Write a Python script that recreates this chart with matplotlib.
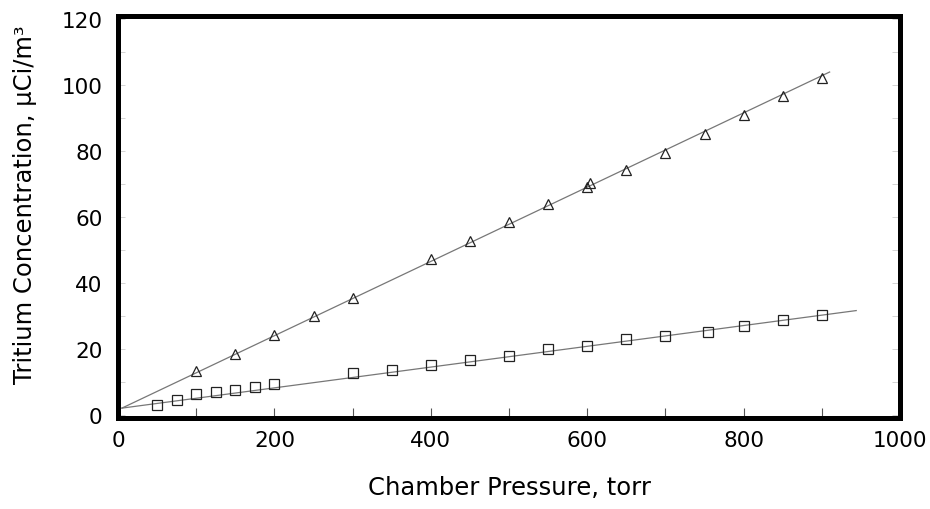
import matplotlib
matplotlib.use("Agg")
import matplotlib.pyplot as plt
from matplotlib.ticker import MultipleLocator

plt.rcParams['font.family'] = ['DejaVu Sans']

# triangles (upper series)
tri_x = [100, 150, 200, 250, 300, 400, 450, 500, 550, 600, 604, 650, 700, 750, 800, 850, 900]
tri_y = [13.4, 18.5, 24.2, 29.9, 35.4, 47.3, 52.8, 58.5, 64.0, 69.2, 70.2, 74.3, 79.5, 85.3, 91.0, 96.8, 102.3]

# squares (lower series)
sq_x = [50, 75, 100, 125, 150, 175, 200, 300, 350, 400, 450, 500, 550, 600, 650, 700, 755, 800, 850, 900]
sq_y = [3.0, 4.6, 6.2, 6.9, 7.4, 8.4, 9.4, 12.6, 13.6, 15.2, 16.7, 17.7, 19.8, 20.8, 23.0, 24.0, 25.0, 27.0, 28.6, 30.3]

# fitted lines, end points
tri_fit_x = [5, 910]
tri_fit_y = [2.0, 104.0]
sq_fit_x = [5, 944]
sq_fit_y = [2.0, 31.6]

x_ticks = [0, 200, 400, 600, 800, 1000]
y_ticks = [0, 20, 40, 60, 80, 100, 120]

fig = plt.figure(figsize=(9.3, 5.1), dpi=100)
ax = fig.add_axes([118/930, 1 - 419/510, (900 - 118)/930, (419 - 17)/510])

ax.plot(tri_fit_x, tri_fit_y, color='#777777', lw=0.9, zorder=2)
ax.plot(sq_fit_x, sq_fit_y, color='#777777', lw=0.9, zorder=2)
ax.plot(tri_x, tri_y, ls='none', marker='^', ms=7.5, mfc='none', mec='#222222', mew=0.9, zorder=3)
ax.plot(sq_x, sq_y, ls='none', marker='s', ms=7, mfc='none', mec='#222222', mew=0.9, zorder=3)

ax.set_xlim(0, 1000)
ax.set_ylim(-1, 121)
ax.set_xticks(x_ticks)
ax.set_yticks(y_ticks)
ax.xaxis.set_minor_locator(MultipleLocator(100))
ax.yaxis.set_minor_locator(MultipleLocator(10))

for s in ax.spines.values():
    s.set_linewidth(3.6)
    s.set_color('black')

ax.tick_params(axis='x', which='both', direction='in', length=7, width=0.8, color='#555555',
               labelsize=15.5, pad=9, top=False)
ax.tick_params(axis='y', which='both', direction='in', length=5, width=0.6, color='#cccccc',
               labelsize=15.5, pad=11, right=True)

# right side ticks are darker than the left ones
for t in ax.yaxis.get_major_ticks() + ax.yaxis.get_minor_ticks():
    t.tick2line.set_color('#666666')
    t.tick2line.set_markersize(6)

fig.text(25/930, 1 - 205/510, 'Tritium Concentration, µCi/m³', rotation=90,
         ha='center', va='center', fontsize=17.5)
fig.text(509/930, 1 - 488/510, 'Chamber Pressure, torr', ha='center', va='center', fontsize=17.5)

fig.savefig('out.png', dpi=100)
